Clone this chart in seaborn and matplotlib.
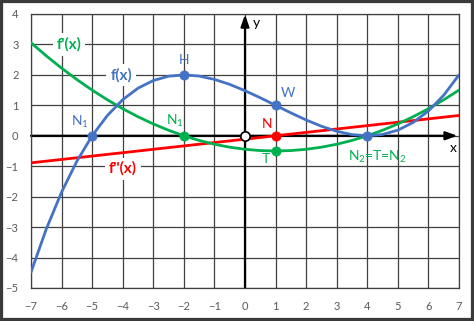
import matplotlib
matplotlib.use('Agg')
import matplotlib.pyplot as plt
import seaborn as sns
import pandas as pd
from matplotlib.patches import Rectangle

# ---- data ----
x_vals = [-7, -6.5, -6, -5.5, -5, -4.5, -4, -3.5, -3, -2.5, -2, -1.5, -1, -0.5, 0,
          0.5, 1, 1.5, 2, 2.5, 3, 3.5, 4, 4.5, 5, 5.5, 6, 6.5, 7]
f_vals = [-4.481, -3.063, -1.852, -0.836, 0.0, 0.669, 1.185, 1.563, 1.815, 1.956, 2.0,
          1.961, 1.852, 1.688, 1.481, 1.248, 1.0, 0.752, 0.519, 0.313, 0.148, 0.039,
          0.0, 0.044, 0.185, 0.438, 0.815, 1.331, 2.0]
fp_vals = [3.056, 2.625, 2.222, 1.847, 1.5, 1.181, 0.889, 0.625, 0.389, 0.181, 0.0,
           -0.153, -0.278, -0.375, -0.444, -0.486, -0.5, -0.486, -0.444, -0.375, -0.278,
           -0.153, 0.0, 0.181, 0.389, 0.625, 0.889, 1.181, 1.5]
fpp_vals = [-0.889, -0.833, -0.778, -0.722, -0.667, -0.611, -0.556, -0.5, -0.444, -0.389,
            -0.333, -0.278, -0.222, -0.167, -0.111, -0.056, 0.0, 0.056, 0.111, 0.167,
            0.222, 0.278, 0.333, 0.389, 0.444, 0.5, 0.556, 0.611, 0.667]

blue_pts_x = [-5, -2, 1, 4]
blue_pts_y = [0, 2, 1, 0]
green_pts_x = [-2, 1]
green_pts_y = [0, -0.5]
red_pts_x = [1]
red_pts_y = [0]
origin_x = [0]
origin_y = [0]

x_ticks = list(range(-7, 8))
y_ticks = list(range(-5, 5))

BLUE = '#4472C4'
GREEN = '#00B050'
RED = '#FF0000'

sns.set_theme(style='white')
plt.rcParams['font.family'] = ['Lato', 'DejaVu Sans']
plt.rcParams['mathtext.fontset'] = 'custom'
plt.rcParams['mathtext.rm'] = 'Lato'
plt.rcParams['mathtext.bf'] = 'Lato:bold'
plt.rcParams['mathtext.default'] = 'rm'

df = pd.DataFrame({'x': x_vals, 'f': f_vals, 'fp': fp_vals, 'fpp': fpp_vals})

fig = plt.figure(figsize=(4.74, 3.21), dpi=100)
fig.patch.set_facecolor('white')
ax = fig.add_axes([31/474, 1-288/321, 428/474, 274/321])
ax.set_facecolor('white')
ax.set_xlim(-7, 7)
ax.set_ylim(-5, 4)
ax.set_xticks(x_ticks)
ax.set_yticks(y_ticks)
ax.grid(True, color='#404040', lw=0.9, zorder=0)
ax.set_axisbelow(True)
ax.tick_params(length=0, pad=9, labelsize=8, labelcolor='#595959')
for s in ax.spines.values():
    s.set_color('#404040')
    s.set_linewidth(0.9)

# coordinate axes with arrows
ax.annotate('', xy=(6.95, 0), xytext=(-7, 0),
            arrowprops=dict(arrowstyle='-|>,head_length=0.7,head_width=0.25',
                            color='black', lw=1.6, shrinkA=0, shrinkB=0, mutation_scale=10),
            zorder=2.5, annotation_clip=False)
ax.annotate('', xy=(0, 3.98), xytext=(0, -5),
            arrowprops=dict(arrowstyle='-|>,head_length=0.7,head_width=0.25',
                            color='black', lw=1.6, shrinkA=0, shrinkB=0, mutation_scale=10),
            zorder=2.5, annotation_clip=False)

sns.lineplot(data=df, x='x', y='fpp', color=RED, lw=2.0, sort=False, estimator=None, ax=ax, zorder=3)
sns.lineplot(data=df, x='x', y='fp', color=GREEN, lw=2.0, sort=False, estimator=None, ax=ax, zorder=3)
sns.lineplot(data=df, x='x', y='f', color=BLUE, lw=2.0, sort=False, estimator=None, ax=ax, zorder=3)
ax.set_xlabel('')
ax.set_ylabel('')

sns.scatterplot(x=blue_pts_x, y=blue_pts_y, color=BLUE, s=45, edgecolor=BLUE, linewidth=0.5, ax=ax, zorder=4)
sns.scatterplot(x=green_pts_x, y=green_pts_y, color=GREEN, s=45, edgecolor=GREEN, linewidth=0.5, ax=ax, zorder=4)
sns.scatterplot(x=red_pts_x, y=red_pts_y, color=RED, s=45, edgecolor=RED, linewidth=0.5, ax=ax, zorder=4)
sns.scatterplot(x=origin_x, y=origin_y, color='white', s=45, edgecolor='black', linewidth=1.2, ax=ax, zorder=4)

box = dict(boxstyle='square,pad=0.25', fc='white', ec='none')
ax.text(-5.75, 3.0, "f'(x)", color=GREEN, fontsize=11, fontweight='bold', ha='center', va='center', bbox=box, zorder=5)
ax.text(-4.05, 2.0, "f(x)", color=BLUE, fontsize=11, fontweight='bold', ha='center', va='center', bbox=box, zorder=5)
ax.text(-4.0, -1.08, "f''(x)", color=RED, fontsize=11, fontweight='bold', ha='center', va='center', bbox=box, zorder=5)

ax.text(-2.0, 2.5, "H", color=BLUE, fontsize=10, ha='center', va='center', zorder=5)
ax.text(1.42, 1.42, "W", color=BLUE, fontsize=10, ha='center', va='center', zorder=5)
ax.text(-5.4, 0.45, "N$_1$", color=BLUE, fontsize=10, ha='center', va='center', zorder=5)
ax.text(-2.3, 0.5, "N$_1$", color=GREEN, fontsize=10, ha='center', va='center', zorder=5)
ax.text(0.72, 0.38, "N", color=RED, fontsize=10, ha='center', va='center', zorder=5)
ax.text(0.69, -0.77, "T", color=GREEN, fontsize=10, ha='center', va='center', zorder=5)
ax.text(4.32, -0.68, "N$_2$=T=N$_2$", color=GREEN, fontsize=10, ha='center', va='center', zorder=5)
ax.text(6.82, -0.39, "x", color='black', fontsize=10, ha='center', va='center', zorder=5)
ax.text(0.36, 3.7, "y", color='black', fontsize=10, ha='center', va='center', zorder=5)

fig.add_artist(Rectangle((0, 0), 1, 1, transform=fig.transFigure, fill=False,
                         ec='#3a3a3a', lw=4.5, zorder=10))

fig.savefig('out.png', dpi=100, facecolor='white')
